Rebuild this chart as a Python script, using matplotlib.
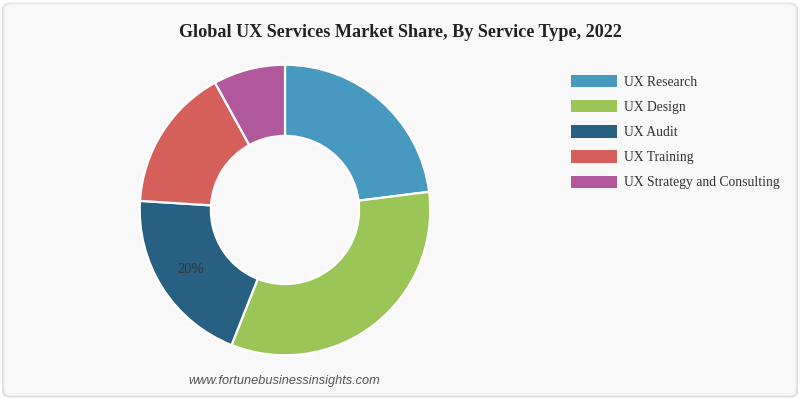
import matplotlib
matplotlib.use("Agg")
import matplotlib.pyplot as plt
from matplotlib.patches import FancyBboxPatch

categories = ["UX Research", "UX Design", "UX Audit", "UX Training", "UX Strategy and Consulting"]
values = [23, 33, 20, 16, 8]
colors = ["#4899bf", "#9bc556", "#276082", "#d55f5a", "#b0589b"]
show_label = [False, False, True, False, False]
title = "Global UX Services Market Share, By Service Type, 2022"
source = "www.fortunebusinessinsights.com"

W, H = 800, 398
fig = plt.figure(figsize=(W / 100, H / 100), dpi=100)
fig.patch.set_facecolor("#ffffff")

# panel with soft shadow
for i, a in enumerate([0.05, 0.08]):
    fig.patches.append(FancyBboxPatch((3 / W, (2 - i) / H), (W - 6) / W, (H - 5) / H,
                                      boxstyle="round,pad=0,rounding_size=0.012",
                                      transform=fig.transFigure, facecolor="none",
                                      edgecolor=(0, 0, 0, a), linewidth=1.5, zorder=-5))
fig.patches.append(FancyBboxPatch((4 / W, 4 / H), (W - 8) / W, (H - 8) / H,
                                  boxstyle="round,pad=0,rounding_size=0.012",
                                  transform=fig.transFigure, facecolor="#f8f8f8",
                                  edgecolor="#eeeeee", linewidth=0.8, zorder=-4))

cx, cy, R = 285, 210, 146
ax = fig.add_axes([(cx - R) / W, (H - cy - R) / H, 2 * R / W, 2 * R / H])
ax.set_zorder(1)

wedges, texts, autotexts = ax.pie(values, colors=colors, startangle=90, counterclock=False,
                                  radius=1, autopct=lambda p: f"{p:.0f}%", pctdistance=0.77,
                                  wedgeprops=dict(width=0.49, edgecolor="white", linewidth=1.6),
                                  textprops=dict(family="Liberation Serif", fontsize=10.5, color="#333333"))
for t, s in zip(autotexts, show_label):
    t.set_visible(s)
ax.set_xlim(-1.005, 1.005)
ax.set_ylim(-1.005, 1.005)
ax.axis("off")
ax.patch.set_alpha(0)

fig.text(400 / W, 1 - 32.5 / H, title, ha="center", va="center", family="Liberation Serif",
         fontsize=13.1, fontweight="bold", color="#222222")

leg = fig.legend(wedges, categories, loc="upper left", bbox_to_anchor=(571 / W, 1 - 75 / H),
                 frameon=False, prop=dict(family="Liberation Serif", size=9.85),
                 handlelength=3.35, handleheight=1.0, labelspacing=0.83, handletextpad=0.5,
                 borderaxespad=0, borderpad=0)
for t in leg.get_texts():
    t.set_color("#333333")
for h in leg.legend_handles:
    h.set_edgecolor("none")
    h.set_linewidth(0)

fig.text(284 / W, 1 - 381 / H, source, ha="center", va="center", family="Liberation Sans",
         style="italic", fontsize=9.2, color="#555555")

fig.savefig("out.png", dpi=100, facecolor=fig.get_facecolor())
